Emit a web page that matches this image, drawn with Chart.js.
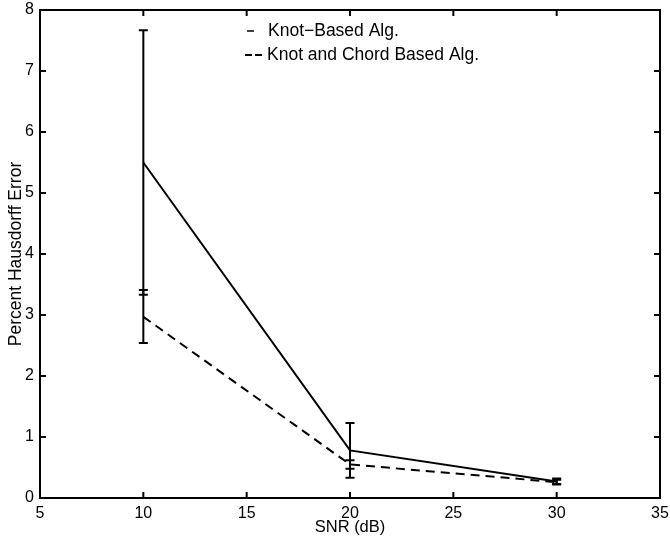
<!DOCTYPE html>
<html>
<head>
<meta charset="utf-8">
<script src="https://cdn.jsdelivr.net/npm/chart.js@4"></script>
<style>
  body { margin: 0; background: #fff; }
  #wrap { width: 670px; height: 541px; }
</style>
</head>
<body>
<div id="wrap"><canvas id="chart"></canvas></div>
<script>
// Data
const snr = [10, 20, 30];
const knotMean = [5.5, 0.78, 0.27];
const knotLow = [3.33, 0.33, 0.22];
const knotHigh = [7.67, 1.23, 0.32];
const chordMean = [2.97, 0.55, 0.26];
const chordLow = [2.54, 0.48, 0.23];
const chordHigh = [3.41, 0.62, 0.30];
const xTicks = [5, 10, 15, 20, 25, 30, 35];
const yTicks = [0, 1, 2, 3, 4, 5, 6, 7, 8];
const legendLabels = ["Knot\u2212Based Alg.", "Knot and Chord Based Alg."];

const fontFamily = "'Liberation Sans', Arial, Helvetica, sans-serif";

function toPoints(xs, ys) {
    return xs.map((x, i) => ({x: x, y: ys[i]}));
}

// error bars, inward ticks, frame and legend
const decorPlugin = {
    id: "decor",
    afterDatasetsDraw(chart) {
        const ctx = chart.ctx;
        const xs = chart.scales.x;
        const ys = chart.scales.y;
        const area = chart.chartArea;
        ctx.save();
        ctx.strokeStyle = "#000";
        ctx.lineWidth = 2;
        ctx.setLineDash([]);
        const bars = [[knotLow, knotHigh], [chordLow, chordHigh]];
        for (let [lo, hi] of bars) {
            for (let i = 0; i < snr.length; i++) {
                const px = xs.getPixelForValue(snr[i]);
                const y1 = ys.getPixelForValue(lo[i]);
                const y2 = ys.getPixelForValue(hi[i]);
                ctx.beginPath();
                ctx.moveTo(px, y1); ctx.lineTo(px, y2);
                ctx.moveTo(px - 4.5, y1); ctx.lineTo(px + 4.5, y1);
                ctx.moveTo(px - 4.5, y2); ctx.lineTo(px + 4.5, y2);
                ctx.stroke();
            }
        }
        // frame
        ctx.strokeRect(area.left, area.top, area.right - area.left, area.bottom - area.top);
        // inward ticks
        ctx.beginPath();
        for (let t of xTicks) {
            const px = xs.getPixelForValue(t);
            ctx.moveTo(px, area.bottom); ctx.lineTo(px, area.bottom - 6);
            ctx.moveTo(px, area.top); ctx.lineTo(px, area.top + 6);
        }
        for (let t of yTicks) {
            const py = ys.getPixelForValue(t);
            ctx.moveTo(area.left, py); ctx.lineTo(area.left + 6, py);
            ctx.moveTo(area.right, py); ctx.lineTo(area.right - 6, py);
        }
        ctx.stroke();
        // legend
        ctx.fillStyle = "#000";
        ctx.font = "17.5px " + fontFamily;
        ctx.textBaseline = "middle";
        ctx.textAlign = "left";
        const row1 = 31, row2 = 55;
        ctx.lineWidth = 1.5;
        ctx.beginPath();
        ctx.moveTo(247, row1); ctx.lineTo(254, row1);
        ctx.stroke();
        ctx.lineWidth = 2;
        ctx.beginPath();
        ctx.moveTo(245, row2); ctx.lineTo(252, row2);
        ctx.moveTo(255, row2); ctx.lineTo(262, row2);
        ctx.stroke();
        ctx.fillText(legendLabels[0], 268, row1);
        ctx.fillText(legendLabels[1], 267, row2);
        ctx.restore();
    }
};

new Chart(document.getElementById("chart"), {
    type: "scatter",
    data: {
        datasets: [
            {
                label: legendLabels[0],
                data: toPoints(snr, knotMean),
                showLine: true,
                borderColor: "#000",
                borderWidth: 2,
                pointRadius: 0,
                fill: false
            },
            {
                label: legendLabels[1],
                data: toPoints(snr, chordMean),
                showLine: true,
                borderColor: "#000",
                borderWidth: 2,
                borderDash: [9, 6],
                pointRadius: 0,
                fill: false
            }
        ]
    },
    options: {
        responsive: true,
        maintainAspectRatio: false,
        animation: false,
        layout: { padding: { top: 10, right: 10, left: 0, bottom: 0 } },
        plugins: {
            legend: { display: false },
            tooltip: { enabled: false }
        },
        scales: {
            x: {
                type: "linear",
                min: 5,
                max: 35,
                afterFit(scale) {
                    scale.height = 43;
                    scale.paddingLeft = 0;
                    scale.paddingRight = 0;
                },
                afterBuildTicks(scale) { scale.ticks = xTicks.map(v => ({value: v})); },
                grid: { display: false, drawTicks: false },
                border: { display: false },
                ticks: { color: "#000", padding: 6, font: { family: fontFamily, size: 16 } },
                title: { display: true, text: "SNR (dB)", color: "#000", padding: { top: 0, bottom: 4 }, font: { family: fontFamily, size: 16.5 } }
            },
            y: {
                type: "linear",
                min: 0,
                max: 8,
                afterFit(scale) {
                    scale.width = 40;
                    scale.paddingTop = 0;
                    scale.paddingBottom = 0;
                },
                afterBuildTicks(scale) { scale.ticks = yTicks.map(v => ({value: v})); },
                grid: { display: false, drawTicks: false },
                border: { display: false },
                ticks: { color: "#000", padding: 6, font: { family: fontFamily, size: 16 } },
                title: { display: true, text: "Percent Hausdorff Error", color: "#000", padding: { top: 6, bottom: 0 }, font: { family: fontFamily, size: 17.5 } }
            }
        }
    },
    plugins: [decorPlugin]
});
</script>
</body>
</html>
